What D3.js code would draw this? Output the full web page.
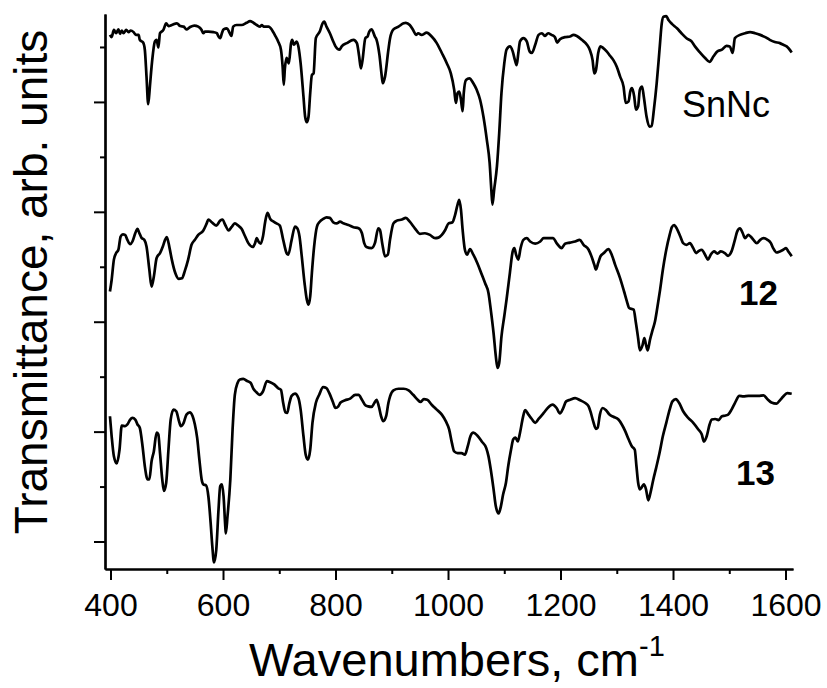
<!DOCTYPE html>
<html><head><meta charset="utf-8">
<script src="https://cdn.jsdelivr.net/npm/d3@7/dist/d3.min.js"></script>
<style>
html,body{margin:0;padding:0;background:#fff;}
text{font-family:"Liberation Sans",Arial,sans-serif;fill:#000;}
</style></head>
<body><svg id="chart" width="827" height="688"></svg>
<script>
// ---------- data (wavenumber cm-1, transmittance arb. units incl. offset) ----------
const seriesNames = ["SnNc", "12", "13"];
const xMajorTicks = [400, 600, 800, 1000, 1200, 1400, 1600];
const xMinorTicks = [500, 700, 900, 1100, 1300, 1500];
const yMajorTicks = [0, 20, 40, 60, 80];
const yMinorTicks = [10, 30, 50, 70, 90];

const snnc = [[399,92.2],[402,91.8],[406,93.1],[410,92.5],[414,93.2],[417,92.4],[420,93.0],[423,92.5],[428,93.1],[432,92.7],[436,93.0],[441,92.7],[445,92.2],[450,92.2],[452,91.3],[458,90.8],[461,89.5],[464,84.6],[467,79.6],[470,82.8],[473,86.4],[479,91.0],[482,91.3],[485,89.9],[488,92.5],[494,93.1],[499,94.3],[503,93.8],[509,94.0],[518,94.3],[524,93.8],[530,93.7],[535,93.2],[541,93.6],[549,93.9],[556,93.7],[562,93.1],[565,92.5],[568,92.8],[574,92.8],[583,92.7],[589,92.5],[592,91.9],[595,91.6],[598,92.5],[601,93.2],[607,93.4],[612,92.5],[615,92.0],[618,93.7],[624,94.0],[633,94.0],[642,94.4],[648,94.7],[654,94.4],[660,94.0],[666,93.7],[669,94.0],[672,93.7],[681,93.7],[687,93.1],[692,92.2],[698,91.0],[703,89.5],[706,86.4],[708,83.1],[710,86.1],[713,88.0],[717,87.0],[721,90.7],[723,91.3],[726,90.4],[731,91.0],[734,90.1],[738,87.0],[743,81.0],[746,77.3],[749,76.3],[752,77.3],[755,81.6],[758,84.9],[761,85.2],[765,91.6],[772,92.8],[777,94.3],[780,94.6],[784,93.7],[790,92.5],[796,91.0],[800,90.1],[807,89.5],[811,90.1],[820,90.7],[832,91.3],[838,90.7],[842,88.3],[845,86.1],[848,87.6],[853,91.6],[857,91.9],[860,92.8],[864,93.2],[870,91.9],[873,91.3],[878,88.6],[882,84.9],[884,83.4],[888,84.6],[894,89.5],[897,91.6],[903,93.2],[912,93.7],[921,94.3],[925,94.4],[932,94.0],[938,93.1],[943,92.2],[947,92.5],[953,92.2],[962,92.6],[971,91.9],[980,90.7],[989,88.9],[998,87.0],[1005,85.2],[1011,82.2],[1014,79.8],[1017,81.6],[1020,81.9],[1023,80.4],[1026,78.3],[1028,81.6],[1032,84.0],[1038,84.3],[1045,83.4],[1051,82.2],[1057,80.4],[1063,77.3],[1069,73.1],[1074,68.9],[1077,64.0],[1079,61.3],[1082,64.0],[1087,68.3],[1091,74.3],[1095,81.6],[1100,87.0],[1104,89.5],[1110,90.1],[1115,89.2],[1119,87.6],[1122,86.7],[1125,88.9],[1128,91.0],[1134,91.6],[1140,91.0],[1145,89.2],[1149,88.9],[1155,90.4],[1161,92.2],[1167,92.5],[1172,92.0],[1178,92.5],[1184,92.2],[1190,91.8],[1194,90.8],[1199,91.4],[1208,91.8],[1217,91.9],[1223,92.2],[1229,92.0],[1238,91.3],[1247,90.4],[1252,89.5],[1257,87.6],[1260,85.2],[1263,85.8],[1267,88.9],[1271,90.1],[1276,89.8],[1282,89.2],[1288,88.4],[1294,87.6],[1300,86.4],[1306,84.6],[1312,82.8],[1316,79.8],[1321,80.1],[1324,81.9],[1327,82.5],[1331,81.0],[1334,78.6],[1338,79.2],[1341,82.2],[1345,82.8],[1348,81.0],[1353,77.3],[1358,75.5],[1362,75.6],[1366,78.6],[1371,83.4],[1376,89.5],[1380,94.3],[1383,95.5],[1388,95.6],[1392,94.9],[1398,94.2],[1407,93.4],[1415,92.5],[1424,91.6],[1433,91.0],[1439,90.1],[1448,89.0],[1457,88.0],[1465,87.3],[1472,88.3],[1479,89.2],[1487,89.5],[1495,90.2],[1501,90.1],[1506,88.9],[1510,91.6],[1519,92.2],[1528,92.5],[1537,92.7],[1546,92.5],[1555,92.2],[1564,91.8],[1572,91.3],[1581,90.9],[1590,90.7],[1596,90.4],[1602,90.1],[1611,89.0]];

const s12 = [[399,45.5],[402,47.6],[406,51.3],[410,52.5],[414,53.1],[418,55.5],[422,55.9],[426,55.8],[430,54.9],[435,54.1],[439,54.6],[444,56.1],[448,56.9],[451,56.2],[455,55.3],[460,54.9],[464,53.7],[469,49.5],[473,46.4],[477,48.2],[482,51.6],[488,52.5],[493,53.7],[497,54.9],[500,55.4],[505,53.4],[509,51.3],[515,48.9],[521,47.8],[527,47.9],[532,49.2],[538,51.3],[544,54.0],[550,54.9],[556,55.8],[565,56.6],[571,57.9],[574,58.6],[580,58.1],[588,57.5],[595,58.4],[599,58.6],[604,57.6],[610,56.6],[615,57.2],[621,57.9],[627,57.5],[633,56.9],[639,55.6],[645,54.3],[653,53.6],[657,54.3],[660,55.2],[663,54.6],[667,54.2],[671,55.5],[675,58.2],[679,59.8],[684,58.7],[690,58.2],[695,57.9],[701,57.5],[707,54.9],[713,52.5],[716,52.2],[722,54.9],[728,57.3],[732,57.0],[736,55.5],[740,51.9],[745,47.0],[749,44.0],[752,43.1],[755,44.6],[758,48.9],[762,53.7],[767,57.3],[772,58.2],[778,58.7],[784,59.0],[790,58.9],[796,58.1],[802,57.9],[808,58.2],[814,57.9],[823,57.6],[832,57.2],[841,57.0],[847,56.1],[851,54.3],[855,53.6],[864,53.4],[870,54.3],[876,57.0],[879,56.7],[883,54.3],[888,51.9],[893,52.2],[897,55.0],[903,57.9],[909,58.4],[918,58.6],[925,58.9],[932,58.2],[941,57.0],[950,56.0],[959,56.1],[968,55.8],[977,55.2],[983,55.3],[989,55.8],[995,56.7],[1001,57.9],[1008,58.1],[1012,59.2],[1017,61.3],[1020,62.2],[1023,60.4],[1026,56.7],[1030,53.1],[1034,52.2],[1039,53.2],[1045,52.2],[1052,50.7],[1060,48.6],[1066,47.0],[1072,45.2],[1076,42.2],[1081,37.9],[1085,33.7],[1088,31.6],[1091,32.5],[1095,37.3],[1100,41.0],[1104,44.0],[1110,48.9],[1115,52.8],[1118,53.4],[1121,52.2],[1125,51.3],[1129,53.4],[1134,54.9],[1140,55.2],[1146,54.6],[1155,54.2],[1164,54.6],[1170,55.2],[1178,55.2],[1187,55.2],[1193,54.3],[1202,53.4],[1208,54.2],[1217,54.4],[1226,54.6],[1234,54.9],[1241,54.0],[1250,53.1],[1255,51.9],[1260,50.4],[1263,49.5],[1267,50.7],[1271,51.9],[1277,52.5],[1285,53.2],[1291,52.2],[1297,50.4],[1306,47.9],[1313,45.5],[1318,43.7],[1322,42.5],[1330,42.2],[1334,39.8],[1338,37.0],[1341,34.8],[1346,35.8],[1349,37.0],[1352,35.8],[1355,34.8],[1359,36.7],[1364,38.6],[1368,40.1],[1372,42.5],[1377,45.8],[1382,49.5],[1388,53.1],[1394,55.8],[1398,57.2],[1402,57.6],[1407,56.9],[1413,55.5],[1418,54.3],[1424,54.0],[1430,54.3],[1436,53.4],[1441,52.5],[1445,52.8],[1451,53.1],[1457,52.2],[1462,51.3],[1467,52.2],[1473,52.8],[1479,52.4],[1485,52.8],[1492,52.5],[1498,52.0],[1504,52.8],[1510,54.9],[1514,56.4],[1519,57.0],[1524,56.1],[1528,55.2],[1534,55.8],[1538,55.5],[1543,54.9],[1549,54.3],[1555,54.9],[1561,55.2],[1568,54.9],[1574,54.3],[1578,53.4],[1584,52.6],[1590,52.8],[1596,53.1],[1601,53.4],[1605,52.8],[1611,51.9]];

const s13 = [[399,22.8],[402,19.2],[406,15.5],[411,14.2],[416,16.7],[420,21.1],[426,21.0],[430,21.3],[435,22.2],[439,22.5],[444,22.2],[448,21.3],[452,20.7],[457,17.3],[461,13.7],[466,11.3],[469,11.3],[473,14.6],[477,16.4],[482,19.8],[485,19.5],[488,16.1],[492,11.3],[495,9.2],[499,10.7],[503,16.7],[507,22.2],[512,24.0],[517,23.7],[521,22.2],[525,21.0],[530,21.6],[535,23.1],[541,23.5],[546,22.8],[550,21.3],[554,18.9],[558,14.9],[562,11.3],[565,10.4],[570,10.2],[574,8.2],[578,3.4],[581,-0.9],[584,-3.8],[588,-1.5],[592,5.8],[595,10.1],[598,10.4],[601,8.2],[604,2.8],[605,1.5],[608,4.6],[613,11.3],[617,20.4],[621,26.7],[626,28.9],[630,29.5],[636,29.6],[643,29.2],[649,28.9],[654,27.8],[659,27.2],[665,26.7],[671,27.3],[678,29.2],[684,29.0],[691,28.6],[698,27.9],[703,27.6],[707,25.2],[711,23.5],[714,23.4],[718,25.2],[722,26.5],[728,26.9],[734,26.1],[738,24.0],[743,19.2],[747,15.8],[751,14.9],[755,16.7],[759,21.6],[765,25.2],[771,26.7],[778,28.1],[784,27.9],[789,27.0],[795,25.5],[800,24.3],[805,24.6],[809,25.3],[817,25.7],[826,26.0],[835,26.7],[841,26.7],[847,25.8],[853,24.8],[858,24.6],[864,24.5],[869,25.2],[873,25.8],[877,24.6],[881,22.8],[885,21.9],[890,22.8],[894,25.2],[897,26.4],[903,27.5],[912,27.8],[921,27.8],[930,27.5],[938,26.7],[946,25.8],[951,25.4],[957,25.9],[963,25.8],[971,24.9],[980,24.0],[989,23.1],[996,21.9],[1002,20.4],[1007,17.9],[1011,16.4],[1017,16.1],[1024,16.1],[1030,15.8],[1035,17.3],[1040,19.2],[1045,19.8],[1052,19.3],[1060,18.2],[1068,17.0],[1072,15.5],[1076,13.1],[1081,9.5],[1085,6.4],[1090,5.1],[1094,6.4],[1098,8.6],[1103,10.7],[1107,13.7],[1112,16.7],[1116,18.6],[1120,18.9],[1124,18.2],[1128,19.8],[1133,22.5],[1137,23.9],[1143,23.1],[1149,22.3],[1155,21.6],[1161,22.3],[1170,23.4],[1178,24.4],[1186,24.9],[1193,24.3],[1199,23.3],[1204,24.1],[1210,25.5],[1217,25.8],[1226,26.1],[1235,25.7],[1244,25.2],[1250,24.6],[1254,23.4],[1258,21.9],[1263,20.5],[1266,20.7],[1270,23.1],[1275,24.3],[1281,23.9],[1287,23.1],[1294,22.7],[1303,22.2],[1309,21.3],[1315,20.1],[1321,18.6],[1327,17.3],[1332,16.7],[1335,13.7],[1338,10.7],[1341,9.5],[1344,9.8],[1348,10.4],[1352,9.5],[1356,7.5],[1360,8.9],[1365,11.3],[1370,13.4],[1376,16.1],[1382,19.2],[1388,21.6],[1394,24.0],[1399,25.5],[1405,25.9],[1411,25.2],[1418,23.7],[1427,22.5],[1436,21.6],[1445,20.4],[1451,19.5],[1455,18.2],[1460,19.2],[1465,21.3],[1469,22.2],[1475,22.3],[1481,22.1],[1487,22.8],[1492,22.9],[1498,23.1],[1504,24.0],[1510,25.2],[1518,26.5],[1525,26.4],[1534,26.5],[1543,26.5],[1552,26.5],[1561,26.6],[1568,25.9],[1575,25.3],[1584,25.1],[1590,25.7],[1596,26.4],[1603,27.0],[1611,26.9]];

const allSeries = [snnc, s12, s13];

// ---------- layout ----------
const svg = d3.select("#chart");
const W = 827, H = 688;
svg.append("rect").attr("width", W).attr("height", H).attr("fill", "#fff");

const x = d3.scaleLinear().domain([390.2, 1613.3]).range([105, 793]);
const y = d3.scaleLinear().domain([-5, 96]).range([569, 14]);
const FONT = '"Liberation Sans", Arial, sans-serif';

// lines
const line = d3.line().x(d => x(d[0])).y(d => y(d[1])).curve(d3.curveMonotoneX);
svg.selectAll("path.spec").data(allSeries).enter().append("path")
  .attr("class", "spec")
  .attr("d", line)
  .attr("fill", "none")
  .attr("stroke", "#000")
  .attr("stroke-width", 2.7)
  .attr("stroke-linejoin", "round");

// axes
function styleAxis(g) {
  g.selectAll("path.domain").attr("stroke", "#000").attr("stroke-width", 2.2);
  g.selectAll(".tick line").attr("stroke", "#000").attr("stroke-width", 2);
}
const gx = svg.append("g").attr("transform", "translate(0,569)")
  .call(d3.axisBottom(x).tickValues(xMajorTicks).tickSize(11).tickSizeOuter(0).tickFormat(d3.format("d")));
styleAxis(gx);
gx.selectAll(".tick text").attr("y", 47).attr("dy", 0)
  .attr("font-size", 32).attr("font-family", FONT).attr("fill", "#000");
const gxm = svg.append("g").attr("transform", "translate(0,569)")
  .call(d3.axisBottom(x).tickValues(xMinorTicks).tickSize(5).tickSizeOuter(0).tickFormat(""));
styleAxis(gxm);

const gy = svg.append("g").attr("transform", "translate(105,0)")
  .call(d3.axisLeft(y).tickValues(yMajorTicks).tickSize(11).tickSizeOuter(0).tickFormat(""));
styleAxis(gy);
const gym = svg.append("g").attr("transform", "translate(105,0)")
  .call(d3.axisLeft(y).tickValues(yMinorTicks).tickSize(5).tickSizeOuter(0).tickFormat(""));
styleAxis(gym);

// axis titles
svg.append("text")
  .attr("transform", "translate(47,282) rotate(-90)")
  .attr("text-anchor", "middle")
  .attr("font-size", 46)
  .attr("font-family", FONT)
  .text("Transmittance, arb. units");

const xt = svg.append("text")
  .attr("x", 249).attr("y", 676)
  .attr("font-size", 47)
  .attr("font-family", FONT);
xt.append("tspan").text("Wavenumbers, cm");
xt.append("tspan").attr("font-size", 29).attr("dy", -20).text("-1");

// series labels
const labelPos = [[682, 117, "normal", 36], [739, 305, "bold", 35], [736, 485, "bold", 35]];
svg.selectAll("text.lab").data(seriesNames).enter().append("text")
  .attr("class", "lab")
  .attr("x", (d, i) => labelPos[i][0])
  .attr("y", (d, i) => labelPos[i][1])
  .attr("font-weight", (d, i) => labelPos[i][2])
  .attr("font-size", (d, i) => labelPos[i][3])
  .attr("font-family", FONT)
  .text(d => d);
</script></body></html>
